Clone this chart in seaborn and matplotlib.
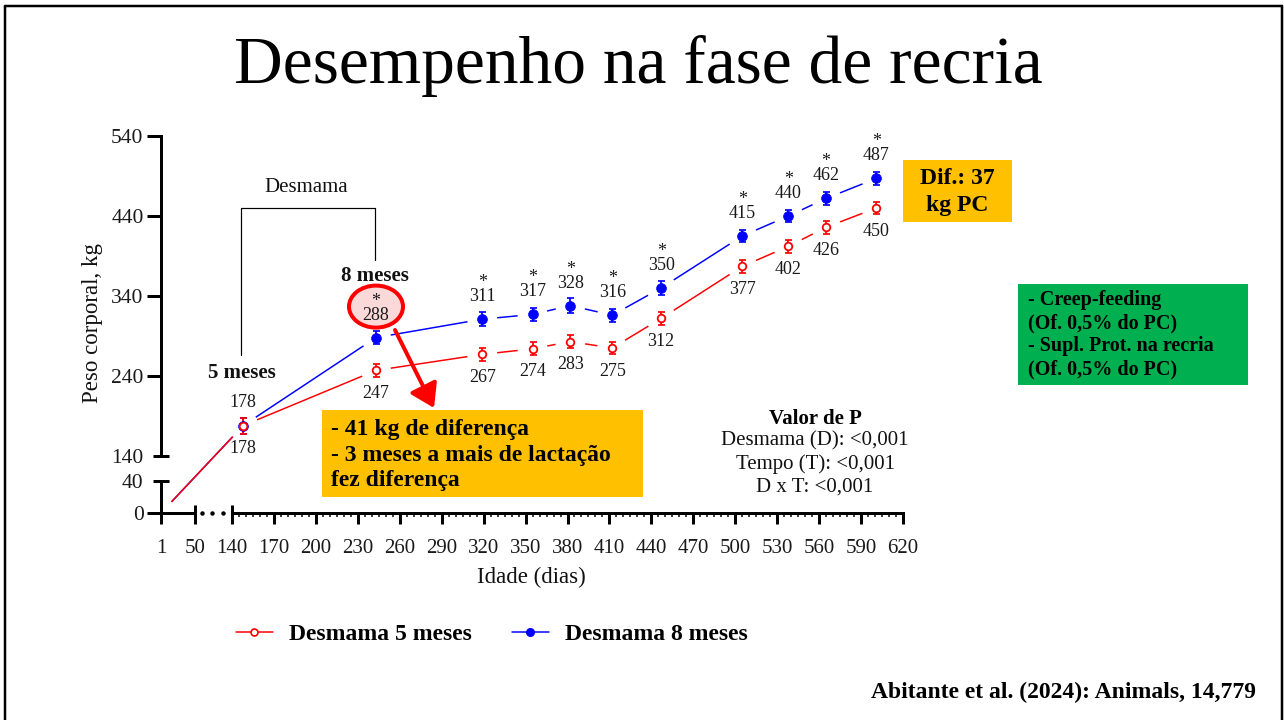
import numpy as np
import matplotlib
matplotlib.use("Agg")
import matplotlib.pyplot as plt
import matplotlib.transforms as mtransforms
from matplotlib.patches import Rectangle, Ellipse, FancyArrowPatch
from matplotlib.lines import Line2D
import seaborn as sns

# ---------------- data ----------------
birth_day = [1]
birth_weight = [0]
days = [148, 243, 319, 355, 382, 412, 447, 505, 538, 565, 601]
weight_5m = [178, 247, 267, 274, 283, 275, 312, 377, 402, 426, 450]
weight_8m = [178, 288, 311, 317, 328, 316, 350, 415, 440, 462, 487]
se_5m = [10, 8, 8, 8, 8, 8, 8, 8, 8, 8, 8]
se_8m = [10, 8, 9, 8, 9, 8, 9, 8, 8, 8, 8]
signif_8m = ["", "*", "*", "*", "*", "*", "*", "*", "*", "*", "*"]
x_ticks = [1, 50, 140, 170, 200, 230, 260, 290, 320, 350, 380, 410, 440,
           470, 500, 530, 560, 590, 620]
y_major = [0, 240, 340, 440, 540]
y_caps = [40, 140]
series_names = ["Desmama 5 meses", "Desmama 8 meses"]

RED = "#FF0000"
BLUE = "#0000FF"
ORANGE = "#FFC000"
GREEN = "#00B050"
INK = "#111111"

sns.set_style("white")
plt.rcParams["font.family"] = ["Liberation Serif", "DejaVu Serif"]
plt.rcParams["text.color"] = INK
plt.rcParams["xtick.color"] = "black"
plt.rcParams["ytick.color"] = "black"

W, H = 1284, 720
fig = plt.figure(figsize=(W / 100, H / 100), dpi=100)
fig.patch.set_facecolor("white")


def fx(x, y):
    """figure pixel (from top-left) -> figure fraction"""
    return x / W, 1 - y / H


PX = 0.72  # points per pixel

# axes placed so that day 1 -> x=161, day 620 -> x=903, 0 kg -> y=513, 540 kg -> y=136
ax = fig.add_axes([161 / W, (H - 513) / H, (903 - 161) / W, (513 - 136) / H])
ax.set_facecolor("none")


def piecewise(xk, yk):
    xk = np.asarray(xk, float)
    yk = np.asarray(yk, float)
    s0 = (yk[1] - yk[0]) / (xk[1] - xk[0])
    s1 = (yk[-1] - yk[-2]) / (xk[-1] - xk[-2])

    def f(v):
        v = np.asarray(v, float)
        out = np.interp(v, xk, yk)
        out = np.where(v < xk[0], yk[0] + (v - xk[0]) * s0, out)
        out = np.where(v > xk[-1], yk[-1] + (v - xk[-1]) * s1, out)
        return out
    return f


# broken-axis scales (piecewise linear)
x_knots, x_pos = [1, 50, 140, 620], [0, 34, 71, 742]
y_knots, y_pos = [0, 40, 140, 540], [0, 32, 57, 377]
ax.set_xscale("function", functions=(piecewise(x_knots, x_pos), piecewise(x_pos, x_knots)))
ax.set_yscale("function", functions=(piecewise(y_knots, y_pos), piecewise(y_pos, y_knots)))

# ---------------- series ----------------
for w, se, col, open_marker in [(weight_8m, se_8m, BLUE, False), (weight_5m, se_5m, RED, True)]:
    xs = birth_day + days
    ys = birth_weight + w
    sns.lineplot(x=xs, y=ys, sort=False, estimator=None, color=col, lw=1.5 * PX,
                 ax=ax, zorder=1.0, legend=False)
    # white halo leaves a gap around the symbols (GraphPad style)
    sns.scatterplot(x=xs, y=ys, s=(30 * PX) ** 2, color="white", edgecolor="none",
                    linewidth=0, ax=ax, zorder=1.1, legend=False)
    ax.errorbar(days, w, yerr=se, fmt="none", ecolor=col, elinewidth=1.7 * PX,
                capsize=3.5 * PX, capthick=1.7 * PX, zorder=1.2)
    if open_marker:
        sns.scatterplot(x=days, y=w, s=30, color="white", edgecolor=col,
                        linewidth=1.8 * PX, ax=ax, zorder=1.3, legend=False)
    else:
        sns.scatterplot(x=days, y=w, s=50, color=col, edgecolor=col,
                        linewidth=0.5, ax=ax, zorder=1.3, legend=False)

# value labels (significance mark stacked above the value in one text)
for d, v, s in zip(days, weight_8m, signif_8m):
    if s:
        ax.annotate(f"{s}\n{v}", (d, v), xytext=(0, 29.5 * PX), textcoords="offset points",
                    ha="center", va="center", multialignment="center", linespacing=0.78,
                    fontsize=13, color="#1a1a1a", zorder=4)
    else:
        ax.annotate(str(v), (d, v), xytext=(0, 23 * PX), textcoords="offset points",
                    ha="center", va="center", fontsize=13, color="#1a1a1a", zorder=4)
for d, v in zip(days, weight_5m):
    ax.annotate(str(v), (d, v), xytext=(0, -23 * PX), textcoords="offset points",
                ha="center", va="center", fontsize=13, color="#1a1a1a", zorder=4)

# highlight ellipse around 8-month label
trans = fig.dpi_scale_trans + mtransforms.ScaledTranslation(days[1], weight_8m[1], ax.transData)
ax.add_patch(Ellipse((0, 0.31), 0.54, 0.42, transform=trans, facecolor="#FBD9D9",
                     edgecolor=RED, lw=4 * PX, zorder=2.6, clip_on=False))

# ---------------- axes ----------------
ax.set_xlim(1, 620)
ax.set_ylim(0, 540)
for sp in ax.spines.values():
    sp.set_visible(False)
ax.set_axisbelow(False)

ax.set_xticks(x_ticks, [str(t) for t in x_ticks])
ax.set_xticks([t for t in range(145, 620, 5) if t not in x_ticks], minor=True)
ax.set_yticks(y_major, [str(t) for t in y_major])
ax.set_yticks(y_caps, [str(t) for t in y_caps], minor=True)

ax.tick_params(axis="both", which="both", bottom=True, left=True, top=False, right=False,
               labelbottom=True, labelleft=True)
ax.tick_params(axis="x", which="major", direction="out", length=11 * PX, width=3 * PX,
               pad=11, labelsize=15, colors="black")
ax.tick_params(axis="x", which="minor", direction="out", length=3.5 * PX, width=1.5 * PX,
               labelbottom=False)
ax.tick_params(axis="y", which="major", direction="out", length=14 * PX, width=3 * PX,
               pad=2.5, labelsize=15.5)
ax.tick_params(axis="y", which="minor", direction="out", length=8.5 * PX, width=3 * PX,
               pad=2.5 + 5.5 * PX, labelsize=15.5)
for lbl in ax.get_xticklabels() + ax.get_yticklabels() + ax.get_yticklabels(minor=True):
    lbl.set_color("#1a1a1a")

ax_kw = dict(color="black", lw=3 * PX, clip_on=False, zorder=5, solid_capstyle="projecting")
ax.plot([1, 1], [0, 40], **ax_kw)
ax.plot([1, 1], [140, 540], **ax_kw)
ax.plot([1, 50], [0, 0], **ax_kw)
ax.plot([140, 620], [0, 0], **ax_kw)
cap_kw = dict(color="black", lw=3 * PX, clip_on=False, zorder=5, solid_capstyle="butt")
ax.plot([1, 13], [40, 40], **cap_kw)
ax.plot([1, 13], [140, 140], **cap_kw)
ax.plot([50, 50], [0, 10], **cap_kw)
ax.plot([140, 140], [0, 10], **cap_kw)
ax.plot([67, 92, 117], [0, 0, 0], ls="none", marker="o", ms=2.2, color="black",
        clip_on=False, zorder=5)

fig.text(*fx(93, 323), "Peso corporal, kg", rotation=90, ha="center", va="center",
         fontsize=16.5)
fig.text(*fx(531, 577), "Idade (dias)", ha="center", va="center", fontsize=16.5)

# ---------------- annotations ----------------
fig.text(*fx(638, 66), "Desempenho na fase de recria", ha="center", va="center",
         fontsize=48.5, color="black")

# bracket "Desmama"
fig.add_artist(Line2D([241 / W, 241 / W, 375 / W, 375 / W],
                      [1 - 355 / H, 1 - 208 / H, 1 - 208 / H, 1 - 260 / H],
                      color="black", lw=1.2 * PX))
fig.text(*fx(306, 187), "Desmama", ha="center", va="center", fontsize=15)
fig.text(*fx(242, 373), "5 meses", ha="center", va="center", fontsize=15, weight="bold")
fig.text(*fx(375, 276), "8 meses", ha="center", va="center", fontsize=15, weight="bold")

# red arrow
fig.add_artist(FancyArrowPatch((395, H - 330), (434, H - 408), transform=None,
                               arrowstyle="-|>,head_length=0.7,head_width=0.45",
                               mutation_scale=20, color=RED, lw=4 * PX,
                               shrinkA=0, shrinkB=0))

# orange box
fig.add_artist(Rectangle(fx(322, 497), 321 / W, 87 / H, transform=fig.transFigure,
                         facecolor=ORANGE, edgecolor="none"))
fig.text(*fx(331, 455), "- 41 kg de diferença\n- 3 meses a mais de lactação\nfez diferença",
         ha="left", va="center", fontsize=17, weight="bold", linespacing=1.27, color="black")

# P values
fig.text(*fx(815, 419), "Valor de P", ha="center", va="center", fontsize=15, weight="bold",
         color="black")
fig.text(*fx(815, 441), "Desmama (D): <0,001", ha="center", va="center", fontsize=15)
fig.text(*fx(815, 464), "Tempo (T): <0,001", ha="center", va="center", fontsize=15)
fig.text(*fx(815, 487), "D x T: <0,001", ha="center", va="center", fontsize=15)

# Dif box
fig.add_artist(Rectangle(fx(903, 222), 109 / W, 62 / H, transform=fig.transFigure,
                         facecolor=ORANGE, edgecolor="none"))
fig.text(*fx(957, 192), "Dif.: 37\nkg PC", ha="center", va="center", fontsize=17,
         weight="bold", linespacing=1.35, multialignment="center", color="black")

# green box
fig.add_artist(Rectangle(fx(1018, 385), 230 / W, 101 / H, transform=fig.transFigure,
                         facecolor=GREEN, edgecolor="none"))
fig.text(*fx(1028, 335),
         "- Creep-feeding\n(Of. 0,5% do PC)\n- Supl. Prot. na recria\n(Of. 0,5% do PC)",
         ha="left", va="center", fontsize=14.5, weight="bold", linespacing=1.2,
         color="black")

# citation
fig.text(*fx(1256, 692), "Abitante et al. (2024): Animals, 14,779", ha="right",
         va="center", fontsize=17, weight="bold", color="black")

# legend
handles = [
    Line2D([], [], color=RED, lw=1.5 * PX, marker="o", ms=5, mfc="white", mec=RED, mew=1.2),
    Line2D([], [], color=BLUE, lw=1.5 * PX, marker="o", ms=5.5, mfc=BLUE, mec=BLUE),
]
leg = fig.legend(handles, series_names, loc="center", bbox_to_anchor=fx(492, 634), ncol=2,
                 frameon=False, handlelength=1.55, handletextpad=0.7, columnspacing=1.7,
                 prop={"size": 17, "weight": "bold"})
for t in leg.get_texts():
    t.set_color("black")

# slide frame
frame_kw = dict(color="black", lw=2.5 * PX)
fig.add_artist(Line2D([4.5 / W, 4.5 / W], [0, 1 - 6 / H], **frame_kw))
fig.add_artist(Line2D([4.5 / W, 1281.5 / W], [1 - 6 / H, 1 - 6 / H], **frame_kw))
fig.add_artist(Line2D([1281.5 / W, 1281.5 / W], [0, 1 - 6 / H], **frame_kw))

fig.savefig("out.png", dpi=100)
